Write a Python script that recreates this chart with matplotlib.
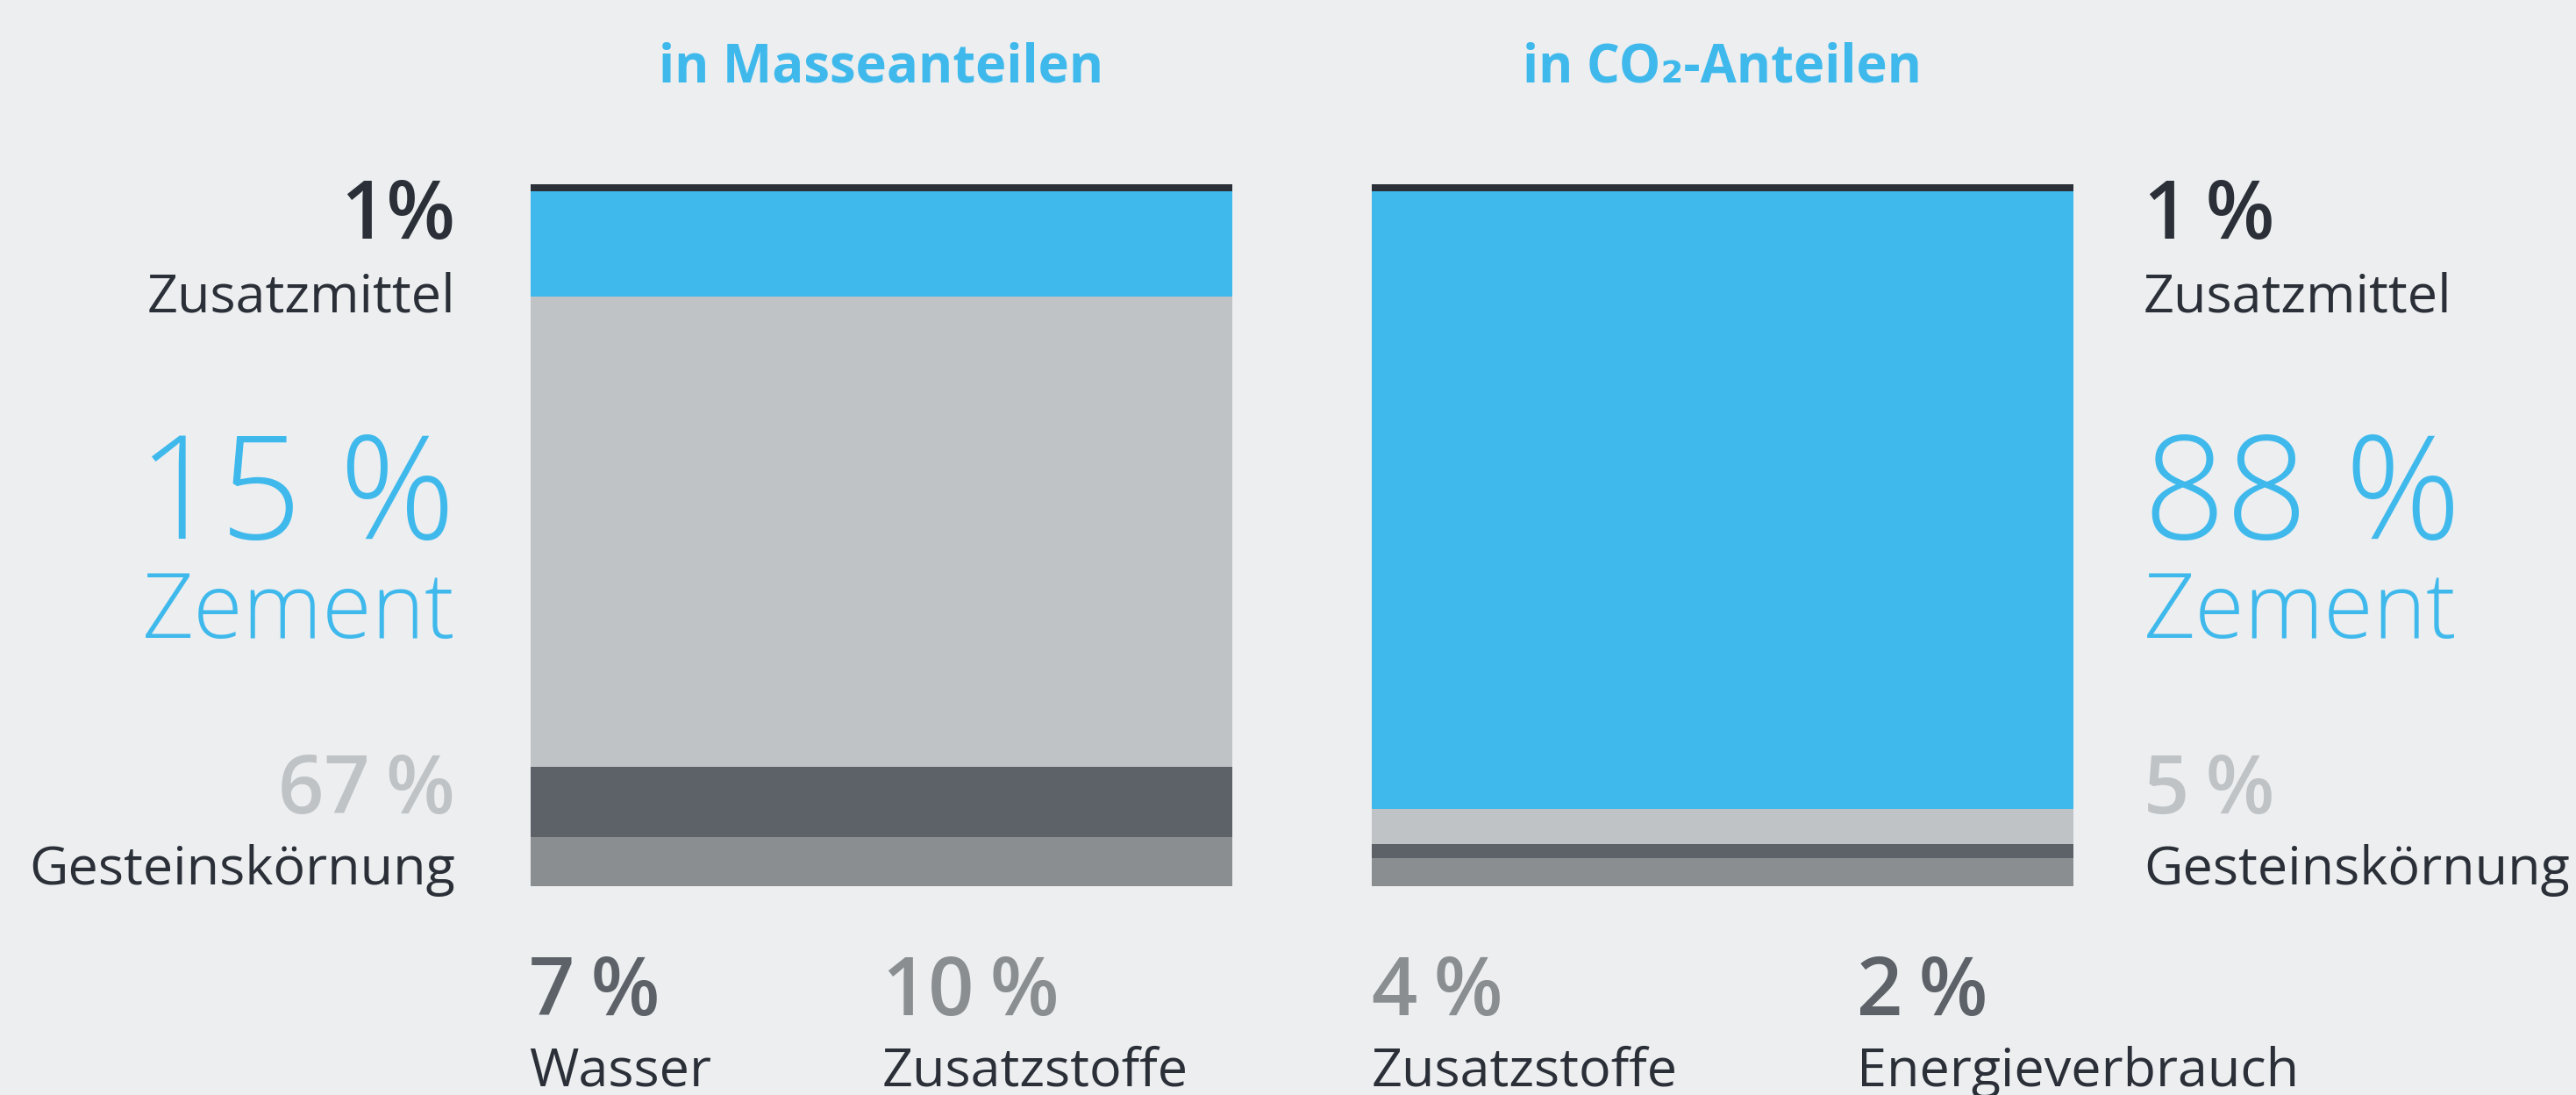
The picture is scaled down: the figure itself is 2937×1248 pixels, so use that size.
import matplotlib
matplotlib.use("Agg")
import matplotlib.pyplot as plt

plt.rcParams['font.family'] = ['Open Sans', 'DejaVu Sans']

# Daten (von unten nach oben gestapelt)
masse_werte = [7, 10, 67, 15, 1]
co2_werte = [4, 2, 5, 88, 1]

hintergrund = '#eceef0'
blau = '#3fb9ec'
schwarz = '#2b3038'
dunkelgrau = '#5c6268'
mittelgrau = '#8a8e91'
hellgrau = '#bfc3c6'
farben = [mittelgrau, dunkelgrau, hellgrau, blau, schwarz]

titel = ['in Masseanteilen', 'in CO\u2082-Anteilen']

W, H = 2937, 1248
fig = plt.figure(figsize=(W / 100, H / 100), dpi=100, facecolor=hintergrund)


def px(x, y):
    # Pixel (von oben links) in Figurenkoordinaten
    return x / W, 1 - y / H


def balken(links, werte):
    ax = fig.add_axes([links / W, (H - 1010) / H, 800 / W, 800 / H])
    unten = 0
    for wert, farbe in zip(werte, farben):
        ax.bar(0, wert, bottom=unten, width=1, color=farbe, linewidth=0)
        unten += wert
    ax.set_xlim(-0.5, 0.5)
    ax.set_ylim(0, 100)
    ax.axis('off')
    return ax


balken(605, masse_werte)
balken(1564, co2_werte)


def text(x, y, s, **kw):
    fig.text(*px(x, y), s, va='baseline', **kw)


ts = '\u2009'  # schmales Leerzeichen

# Titel
text(1005, 94, titel[0], ha='center', color=blau, fontsize=43, fontweight='bold')
text(1964, 94, titel[1], ha='center', color=blau, fontsize=43, fontweight='bold')

# linke Beschriftungen
text(519, 272, f'{masse_werte[4]}%', ha='right', color=schwarz, fontsize=66, fontweight='semibold')
text(519, 356, 'Zusatzmittel', ha='right', color=schwarz, fontsize=44)
text(519, 614, f'{masse_werte[3]} %', ha='right', color=blau, fontsize=118, fontweight='light')
text(519, 727, 'Zement', ha='right', color=blau, fontsize=74, fontweight='light')
text(519, 927, f'{masse_werte[2]}{ts}%', ha='right', color=hellgrau, fontsize=66, fontweight='semibold')
text(519, 1008, 'Gesteinskörnung', ha='right', color=schwarz, fontsize=44)

# rechte Beschriftungen
text(2444, 272, f'{co2_werte[4]}{ts}%', ha='left', color=schwarz, fontsize=66, fontweight='semibold')
text(2444, 356, 'Zusatzmittel', ha='left', color=schwarz, fontsize=44)
text(2444, 614, f'{co2_werte[3]} %', ha='left', color=blau, fontsize=118, fontweight='light')
text(2444, 727, 'Zement', ha='left', color=blau, fontsize=74, fontweight='light')
text(2444, 927, f'{co2_werte[2]}{ts}%', ha='left', color=hellgrau, fontsize=66, fontweight='semibold')
text(2444, 1008, 'Gesteinskörnung', ha='left', color=schwarz, fontsize=44)

# untere Beschriftungen
unten = [
    (603, f'{masse_werte[0]}{ts}%', 'Wasser', dunkelgrau),
    (1006, f'{masse_werte[1]}{ts}%', 'Zusatzstoffe', mittelgrau),
    (1564, f'{co2_werte[0]}{ts}%', 'Zusatzstoffe', mittelgrau),
    (2117, f'{co2_werte[1]}{ts}%', 'Energieverbrauch', dunkelgrau),
]
for x, wert, name, farbe in unten:
    text(x, 1157, wert, ha='left', color=farbe, fontsize=66, fontweight='semibold')
    text(x, 1238, name, ha='left', color=schwarz, fontsize=44)

fig.savefig('out.png', dpi=100, facecolor=hintergrund)
